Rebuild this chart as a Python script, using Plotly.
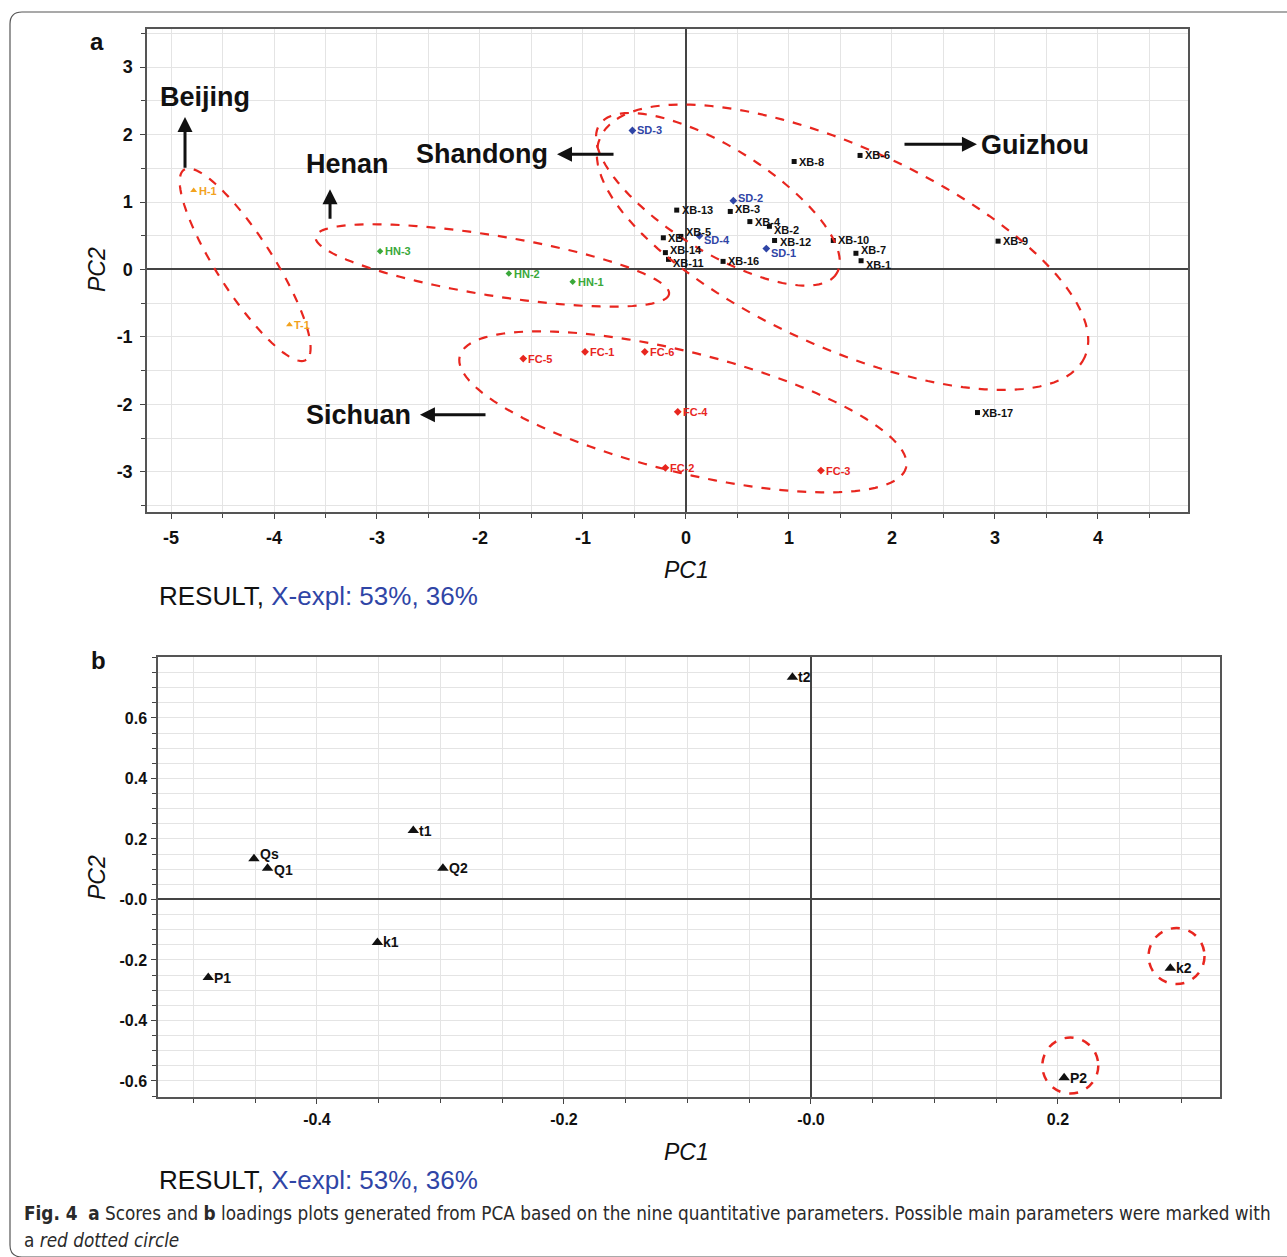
import math
import plotly.graph_objects as go

W, H = 1287, 1257

# ---------------- data: panel a (scores) ----------------
xb_names = ["XB-1", "XB-2", "XB-3", "XB-4", "XB-5", "XB-6", "XB-7", "XB-8", "XB-9",
            "XB-10", "XB-11", "XB-12", "XB-13", "XB-14", "XB-15", "XB-16", "XB-17"]
xb_pc1 = [1.70, 0.81, 0.43, 0.62, -0.05, 1.69, 1.65, 1.05, 3.03,
          1.43, -0.17, 0.86, -0.09, -0.20, -0.22, 0.36, 2.83]
xb_pc2 = [0.13, 0.64, 0.86, 0.71, 0.49, 1.69, 0.24, 1.60, 0.42,
          0.43, 0.15, 0.43, 0.88, 0.25, 0.47, 0.12, -2.12]
xb_text = ["XB-1", "XB-2", "XB-3", "XB-4", "XB-5", "XB-6", "XB-7", "XB-8", "XB-9",
           "XB-10", "XB-11", "XB-12", "XB-13", "XB-14", "XB", "XB-16", "XB-17"]

sd_names = ["SD-1", "SD-2", "SD-3", "SD-4"]
sd_pc1 = [0.78, 0.46, -0.52, 0.13]
sd_pc2 = [0.31, 1.02, 2.06, 0.50]

hn_names = ["HN-1", "HN-2", "HN-3"]
hn_pc1 = [-1.10, -1.72, -2.97]
hn_pc2 = [-0.18, -0.06, 0.27]

bj_names = ["H-1", "T-1"]
bj_pc1 = [-4.78, -3.85]
bj_pc2 = [1.17, -0.82]

fc_names = ["FC-1", "FC-2", "FC-3", "FC-4", "FC-5", "FC-6"]
fc_pc1 = [-0.98, -0.20, 1.31, -0.08, -1.58, -0.40]
fc_pc2 = [-1.22, -2.94, -2.98, -2.11, -1.32, -1.22]

# ---------------- data: panel b (loadings) ----------------
ld_names = ["t2", "t1", "Qs", "Q1", "Q2", "k1", "P1", "k2", "P2"]
ld_pc1 = [-0.015, -0.322, -0.451, -0.440, -0.298, -0.351, -0.488, 0.291, 0.205]
ld_pc2 = [0.735, 0.228, 0.135, 0.103, 0.103, -0.142, -0.258, -0.227, -0.589]
circled = ["k2", "P2"]

a_xticks = [-5, -4, -3, -2, -1, 0, 1, 2, 3, 4]
a_yticks = [-3, -2, -1, 0, 1, 2, 3]
b_xticks = [-0.4, -0.2, 0.0, 0.2]
b_xtext = ["-0.4", "-0.2", "-0.0", "0.2"]
b_yticks = [-0.6, -0.4, -0.2, 0.0, 0.2, 0.4, 0.6]
b_ytext = ["-0.6", "-0.4", "-0.2", "-0.0", "0.2", "0.4", "0.6"]

# label nudges in pixels (up positive) to limit collisions in dense areas
label_nudge = {"XB-14": 3, "XB-11": -4, "XB-7": 3, "XB-1": -4, "SD-2": 3, "XB-3": 2,
               "XB-2": -4, "XB-12": -2, "SD-1": -4, "XB-5": 4, "SD-4": -4, "Qs": 5,
               "Q1": -2}

# ---------------- layout geometry ----------------
def px(x):
    return x / W

def py(y):
    return 1 - y / H

A_X = (147, 1188)
A_Y = (29, 512)
B_X = (158, 1220)
B_Y = (657, 1097)
a_xrange = [-5.233, 4.874]
a_yrange = [-3.594, 3.564]
b_xrange = [-0.5287, 0.3312]
b_yrange = [-0.653, 0.8016]

sx_a = (A_X[1] - A_X[0]) / (a_xrange[1] - a_xrange[0])
sy_a = (A_Y[1] - A_Y[0]) / (a_yrange[1] - a_yrange[0])

RED = "#e8261f"
BLUE = "#2f45a6"
GREEN = "#3aa83a"
ORANGE = "#f2a21e"
FONT = "Liberation Sans, Arial, sans-serif"
CAPFONT = "Liberation Sans Narrow, DejaVu Sans Condensed, Roboto, sans-serif"

fig = go.Figure()
annotations = []

def grp(xs, ys, names, color, symbol, size, texts=None):
    texts = texts if texts else names
    fig.add_trace(go.Scatter(
        x=xs, y=ys, mode="markers",
        marker=dict(color=color, symbol=symbol, size=size),
        xaxis="x", yaxis="y", showlegend=False, hoverinfo="text", hovertext=names))
    for x, y, nm, t in zip(xs, ys, names, texts):
        annotations.append(dict(x=x, y=y, xref="x", yref="y", text=t, showarrow=False,
                                xanchor="left", yanchor="middle", xshift=3,
                                yshift=label_nudge.get(nm, 0),
                                font=dict(family=FONT, size=11, color=color, weight="bold")))

grp(xb_pc1, xb_pc2, xb_names, "#111111", "square", 5, xb_text)
grp(sd_pc1, sd_pc2, sd_names, BLUE, "diamond", 6)
grp(hn_pc1, hn_pc2, hn_names, GREEN, "diamond", 5)
grp(bj_pc1, bj_pc2, bj_names, ORANGE, "triangle-up", 6)
grp(fc_pc1, fc_pc2, fc_names, RED, "diamond", 6)

fig.add_trace(go.Scatter(
    x=ld_pc1, y=ld_pc2, mode="markers",
    marker=dict(color="#111111", symbol="triangle-up", size=10),
    xaxis="x2", yaxis="y2", showlegend=False, hovertext=ld_names))
for x, y, nm in zip(ld_pc1, ld_pc2, ld_names):
    annotations.append(dict(x=x, y=y, xref="x2", yref="y2", text=nm, showarrow=False,
                            xanchor="left", yanchor="middle", xshift=4,
                            yshift=label_nudge.get(nm, 0),
                            font=dict(family=FONT, size=14, color="#111111", weight="bold")))

# ---------------- ellipses (panel a) ----------------
# center in data units, semi-axes in pixels, angle in screen degrees (clockwise)
ellipses = [
    (-4.28, 0.07, 113, 28, 57.3),
    (-1.88, 0.06, 179, 30, 9.2),
    (0.31, 1.04, 140, 52, 32.0),
    (1.52, 0.33, 266, 100, 24.4),
    (-0.03, -2.11, 230, 60, 14.0),
]
shapes = []
for cx, cy, a, b, ang in ellipses:
    th = math.radians(ang)
    pts = []
    for i in range(121):
        t = 2 * math.pi * i / 120
        u, v = a * math.cos(t), b * math.sin(t)
        dx = u * math.cos(th) - v * math.sin(th)
        dy = u * math.sin(th) + v * math.cos(th)
        pts.append((cx + dx / sx_a, cy - dy / sy_a))
    path = "M " + " L ".join(f"{x:.4f},{y:.4f}" for x, y in pts) + " Z"
    shapes.append(dict(type="path", path=path, xref="x", yref="y",
                       line=dict(color=RED, width=2.2, dash="dash")))

# circles (panel b)
for nm in circled:
    i = ld_names.index(nm)
    shapes.append(dict(type="circle", xref="x2", yref="y2",
                       xsizemode="pixel", ysizemode="pixel",
                       xanchor=ld_pc1[i] + 0.005, yanchor=ld_pc2[i] + 0.04,
                       x0=-28, x1=28, y0=-28, y1=28,
                       line=dict(color=RED, width=2.5, dash="dash")))

# outer rounded frame
shapes.append(dict(type="path", xref="paper", yref="paper",
                   path=(f"M {px(1300)},{py(12)} L {px(22)},{py(12)} "
                         f"Q {px(10)},{py(12)} {px(10)},{py(24)} "
                         f"L {px(10)},{py(1245)} Q {px(10)},{py(1257)} {px(22)},{py(1257)} "
                         f"L {px(1300)},{py(1257)}"),
                   line=dict(color="#555555", width=1.2)))

# region labels + arrows (panel a)
regions = [
    ("Beijing", -4.67, 2.555, (-4.864, 2.258), (-4.864, 1.485)),
    ("Henan", -3.29, 1.56, (-3.456, 1.188), (-3.456, 0.728)),
    ("Shandong", -1.98, 1.708, (-1.252, 1.708), (-0.689, 1.708)),
    ("Guizhou", 3.39, 1.842, (2.825, 1.857), (2.107, 1.857)),
    ("Sichuan", -3.18, -2.154, (-2.583, -2.154), (-1.932, -2.154)),
]
for name, tx, ty, head, tail in regions:
    annotations.append(dict(x=tx, y=ty, xref="x", yref="y", text=name, showarrow=False,
                            font=dict(family=FONT, size=27, color="#111111", weight="bold")))
    annotations.append(dict(x=head[0], y=head[1], ax=tail[0], ay=tail[1],
                            xref="x", yref="y", axref="x", ayref="y", text="",
                            showarrow=True, arrowhead=2, arrowsize=1.0, arrowwidth=3,
                            arrowcolor="#111111"))

def txt(x, y, s, size, **kw):
    d = dict(x=px(x), y=py(y), xref="paper", yref="paper", text=s, showarrow=False,
             xanchor="center", yanchor="middle",
             font=dict(family=FONT, size=size, color="#111111"))
    d.update(kw)
    return d

annotations += [
    txt(97, 41, "<b>a</b>", 24),
    txt(98, 660, "<b>b</b>", 24),
    txt(686, 570, "<i>PC1</i>", 23),
    txt(97, 270, "<i>PC2</i>", 23, textangle=-90),
    txt(686, 1152, "<i>PC1</i>", 23),
    txt(97, 878, "<i>PC2</i>", 23, textangle=-90),
    txt(157, 596, f"RESULT, <span style='color:{BLUE}'>X-expl: 53%, 36%</span>", 26,
        xanchor="left"),
    txt(157, 1180, f"RESULT, <span style='color:{BLUE}'>X-expl: 53%, 36%</span>", 26,
        xanchor="left"),
    txt(22, 1213, "<b>Fig. 4</b>  <b>a</b> Scores and <b>b</b> loadings plots generated from PCA "
        "based on the nine quantitative parameters. Possible main parameters were marked with",
        18.8, xanchor="left",
        font=dict(family=CAPFONT, size=18.8, color="#2a2a2a")),
    txt(22, 1240, "a <i>red dotted circle</i>", 18.8, xanchor="left",
        font=dict(family=CAPFONT, size=18.8, color="#2a2a2a")),
]

tickfont_a = dict(family=FONT, size=18, color="#111111", weight="bold")
tickfont_b = dict(family=FONT, size=16, color="#111111", weight="bold")

common = dict(showline=True, linecolor="#555555", linewidth=1.5, mirror=True,
              gridcolor="#e4e4e4", gridwidth=1, zeroline=True, zerolinecolor="#444444",
              zerolinewidth=1.5, ticks="outside", ticklen=5, tickcolor="#444444")

fig.update_layout(
    width=W, height=H, margin=dict(l=0, r=0, t=0, b=0),
    paper_bgcolor="white", plot_bgcolor="white",
    xaxis=dict(domain=[px(A_X[0]), px(A_X[1])], range=a_xrange, anchor="y",
               tickvals=a_xticks, ticktext=[str(v) for v in a_xticks],
               tickfont=tickfont_a, ticklabelstandoff=4,
               minor=dict(dtick=0.5, tick0=0, showgrid=True, gridcolor="#e4e4e4",
                          ticks="outside", ticklen=4, tickcolor="#444444"),
               **common),
    yaxis=dict(domain=[py(A_Y[1]), py(A_Y[0])], range=a_yrange, anchor="x",
               tickvals=a_yticks, ticktext=[str(v) for v in a_yticks],
               tickfont=tickfont_a, ticklabelstandoff=4,
               minor=dict(dtick=0.5, tick0=0, showgrid=True, gridcolor="#e4e4e4",
                          ticks="outside", ticklen=4, tickcolor="#444444"),
               **common),
    xaxis2=dict(domain=[px(B_X[0]), px(B_X[1])], range=b_xrange, anchor="y2",
                tickvals=b_xticks, ticktext=b_xtext, tickfont=tickfont_b,
                ticklabelstandoff=2,
                minor=dict(dtick=0.05, tick0=0, showgrid=True, gridcolor="#e4e4e4",
                           ticks="outside", ticklen=4, tickcolor="#444444"),
                **common),
    yaxis2=dict(domain=[py(B_Y[1]), py(B_Y[0])], range=b_yrange, anchor="x2",
                tickvals=b_yticks, ticktext=b_ytext, tickfont=tickfont_b,
                ticklabelstandoff=1,
                minor=dict(dtick=0.05, tick0=0, showgrid=True, gridcolor="#e4e4e4",
                           ticks="outside", ticklen=4, tickcolor="#444444"),
                **common),
    shapes=shapes,
    annotations=annotations,
)

fig.write_html("out.html", config={"displayModeBar": False},
               post_script="document.body.style.margin='0';document.body.style.overflow='hidden';")
